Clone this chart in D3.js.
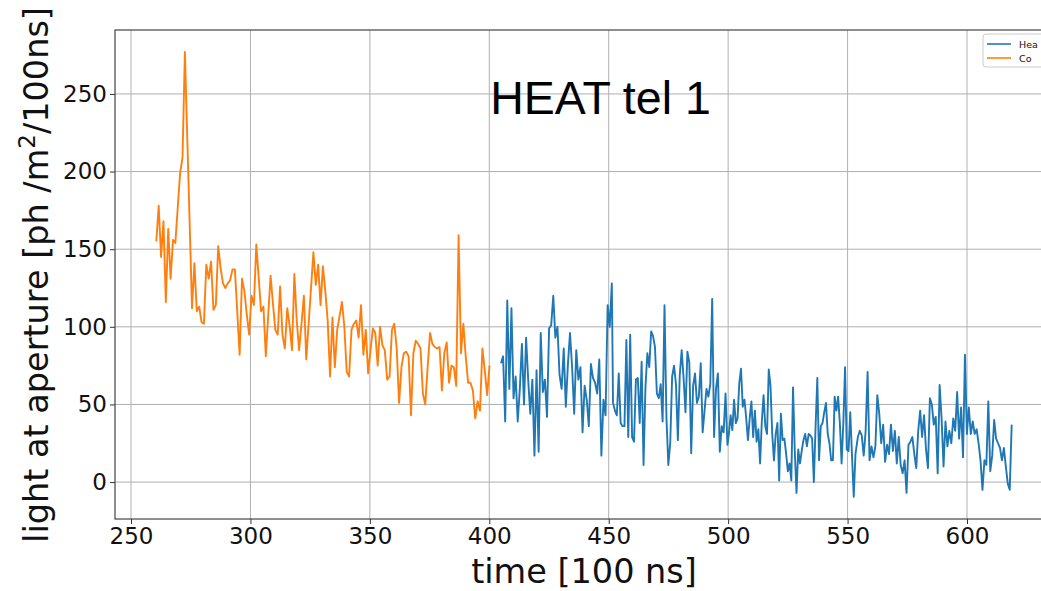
<!DOCTYPE html>
<html>
<head>
<meta charset="utf-8">
<script src="https://cdn.jsdelivr.net/npm/d3@7"></script>
<style>
  html, body { margin: 0; padding: 0; background: #fff; }
  svg { display: block; }
</style>
</head>
<body>
<svg id="chart" width="1041" height="591"></svg>
<script>
// readings of the picture: light at aperture per time bin
const orangeFrom = 260.6, orangeTo = 400.1;
const orangeValues = [
  155, 178, 145, 168, 116, 163, 131, 156, 154, 177, 199, 209, 277, 222, 167, 112, 141, 110, 113, 103,
  102, 140, 131, 142, 111, 114, 152, 138, 128, 125, 128, 130, 137, 137, 110, 82, 131, 123, 108, 95,
  120, 114, 153, 132, 110, 113, 81, 107, 133, 115, 98, 95, 126, 95, 86, 112, 101, 85, 134, 104,
  85, 102, 120, 79, 102, 125, 148, 127, 140, 114, 139, 123, 104, 68, 106, 74, 98, 107, 116, 100,
  71, 68, 98, 102, 104, 93, 114, 82, 98, 70, 85, 99, 96, 75, 100, 88, 85, 66, 68, 98,
  102, 86, 51, 74, 83, 84, 81, 43, 83, 91, 89, 86, 57, 50, 74, 96, 89, 87, 86, 87,
  59, 83, 90, 64, 75, 74, 62, 159, 83, 102, 81, 64, 64, 59, 41, 52, 46, 86, 72, 56, 75
];

// blue trace read in four stretches
const blueA = [
  76.5, 81, 39, 117, 60, 112, 54, 68, 39, 60, 89, 50, 93, 66, 44, 66, 17, 72, 19.5, 96,
  58, 66, 42, 99, 101, 120, 93, 100, 69, 60, 86, 48.5, 76, 96, 74, 44, 85, 66, 74, 32,
  62, 53, 36, 76, 67, 64, 57, 79, 17, 53, 43, 114, 100, 128
];
const blueB = [
  51, 46, 43, 70, 38, 36, 36, 91.5, 29, 95, 29, 26, 66, 67, 38, 77.5, 11, 61, 83, 74,
  97, 94, 87, 57, 54, 63, 39, 114, 42, 11, 25, 68, 75, 63, 27, 69, 85, 67, 45, 84,
  77, 18.5, 62, 70, 51, 55, 76.5, 32, 46, 60, 55, 63, 118, 29, 60, 70, 19.5, 36, 32, 57, 24
];
const blueC = [
  31, 43, 33.5, 53, 38, 41, 63.5, 73, 48.5, 53, 41, 27, 41, 52, 29, 46, 26, 34, 12, 39,
  56, 36, 31, 72.6, 62, 31, 14, 31, 38, 1, 44, 27, 28, 18.5, 7, 12, 1, 61, 20, -7,
  21, 12, 20, 27, 31, 23, 31, 30, 28, 0, 36, 67, 14, 36, 38, 45, 51, 31, 25, 14,
  14, 55, 46, 55, 38, 12, 38, 74, 21, 20, 45, 17, -9.5, 18
];
const blueD = [
  29, 33, 30, 17, 33, 71, 14, 23, 16, 23, 56, 44, 25, 37, 13, 24, 18, 37, 20, 33,
  12, 29, 11, 5.6, 14, -7, 24, 26, 29, 18, 9, 33, 46, 29, 43, 21, 9, 54, 50, 37,
  42, 5.6, 62.5, 41, 10, 39, 23, 33, 25, 41, 33, 58, 28, 48, 16, 82, 31, 48, 31, 39,
  31, 34, 25, 14, -5, 14, 11, 52, 7, 17, 40, 28, 25, 22, 14, 22, 10, -1, -5, 37
];
const blueStretches = [
  { from: 404.9, to: 451.3, values: blueA },
  { from: 451.8, to: 499.7, values: blueB },
  { from: 500.3, to: 553.3, values: blueC },
  { from: 554.3, to: 618.7, values: blueD }
];

const xTicks = [250, 300, 350, 400, 450, 500, 550, 600];
const yTicks = [0, 50, 100, 150, 200, 250];
const legendLabels = ['Hea', 'Co'];
const title = 'HEAT tel 1';

const blue = '#1f77b4', orange = '#ff7f0e';

// spread a stretch of readings evenly between its first and last time
function toPoints(from, to, values) {
    const step = (to - from) / (values.length - 1);
    return values.map((v, i) => ({ t: from + i * step, v: v }));
}

const orangePts = toPoints(orangeFrom, orangeTo, orangeValues);
var bluePts = [];
blueStretches.forEach(s => { bluePts = bluePts.concat(toPoints(s.from, s.to, s.values)); });

const plotLeft = 115, plotTop = 30, plotBottom = 519;
const x = d3.scaleLinear().domain([243.3, 638]).range([plotLeft, plotLeft + (638 - 243.3) * 2.3886]);
const y = d3.scaleLinear().domain([-23.8, 291.2]).range([plotBottom, plotTop]);
const plotRight = x.range()[1];

const svg = d3.select('#chart');
const font = "'DejaVu Sans', sans-serif";

svg.append('defs').append('clipPath').attr('id', 'plotClip')
    .append('rect').attr('x', plotLeft).attr('y', plotTop)
    .attr('width', plotRight - plotLeft).attr('height', plotBottom - plotTop);

// grid
const grid = svg.append('g').attr('class', 'grid');
grid.selectAll('line.gx').data(xTicks).enter().append('line')
    .attr('x1', d => x(d)).attr('x2', d => x(d))
    .attr('y1', plotTop).attr('y2', plotBottom)
    .attr('stroke', '#b0b0b0').attr('stroke-width', 1);
grid.selectAll('line.gy').data(yTicks).enter().append('line')
    .attr('y1', d => y(d)).attr('y2', d => y(d))
    .attr('x1', plotLeft).attr('x2', plotRight)
    .attr('stroke', '#b0b0b0').attr('stroke-width', 1);

// traces
const line = d3.line().x(d => x(d.t)).y(d => y(d.v));
const traces = svg.append('g').attr('clip-path', 'url(#plotClip)');
traces.append('path').datum(bluePts)
    .attr('d', line).attr('fill', 'none')
    .attr('stroke', blue).attr('stroke-width', 1.9).attr('stroke-linejoin', 'round');
traces.append('path').datum(orangePts)
    .attr('d', line).attr('fill', 'none')
    .attr('stroke', orange).attr('stroke-width', 1.9).attr('stroke-linejoin', 'round');

// axes
const xAxis = svg.append('g').attr('transform', `translate(0,${plotBottom})`)
    .call(d3.axisBottom(x).tickValues(xTicks).tickSize(5).tickPadding(4));
const yAxis = svg.append('g').attr('transform', `translate(${plotLeft},0)`)
    .call(d3.axisLeft(y).tickValues(yTicks).tickSize(5).tickPadding(3));
[xAxis, yAxis].forEach(a => {
    a.select('.domain').remove();
    a.selectAll('.tick line').attr('stroke', '#333').attr('stroke-width', 1);
    a.selectAll('.tick text').attr('fill', '#111')
        .style('font-family', font).style('font-size', '23px');
});

// frame
svg.append('rect').attr('x', plotLeft).attr('y', plotTop)
    .attr('width', plotRight - plotLeft).attr('height', plotBottom - plotTop)
    .attr('fill', 'none').attr('stroke', '#444').attr('stroke-width', 1.2);

// axis labels
svg.append('text').attr('x', 584).attr('y', 583)
    .attr('text-anchor', 'middle').attr('fill', '#111')
    .style('font-family', font).style('font-size', '33.5px')
    .text('time [100 ns]');
const yl = svg.append('text')
    .attr('transform', 'translate(48,275) rotate(-90)')
    .attr('text-anchor', 'middle').attr('fill', '#111')
    .style('font-family', font).style('font-size', '33.5px');
yl.append('tspan').text('light at aperture [ph /m');
yl.append('tspan').attr('dy', -13).style('font-size', '23px').text('2');
yl.append('tspan').attr('dy', 13).text('/100ns]');

// title inside the plot
svg.append('text').attr('x', 600.5).attr('y', 113.5)
    .attr('text-anchor', 'middle').attr('fill', '#000')
    .style('font-family', "'Liberation Sans', Arial, sans-serif").style('font-size', '46.5px')
    .text(title);

// legend, cut by the right edge
const lg = svg.append('g').attr('transform', 'translate(983,34)');
lg.append('rect').attr('width', 80).attr('height', 33).attr('rx', 3)
    .attr('fill', '#fff').attr('fill-opacity', 0.8)
    .attr('stroke', '#ccc').attr('stroke-width', 1);
[blue, orange].forEach((c, i) => {
    lg.append('line').attr('x1', 4).attr('x2', 28)
        .attr('y1', 10 + i * 14).attr('y2', 10 + i * 14)
        .attr('stroke', c).attr('stroke-width', 1.6);
    lg.append('text').attr('x', 36).attr('y', 13.5 + i * 14)
        .attr('fill', '#111').style('font-family', font).style('font-size', '9.5px')
        .text(legendLabels[i]);
});
</script>
</body>
</html>
